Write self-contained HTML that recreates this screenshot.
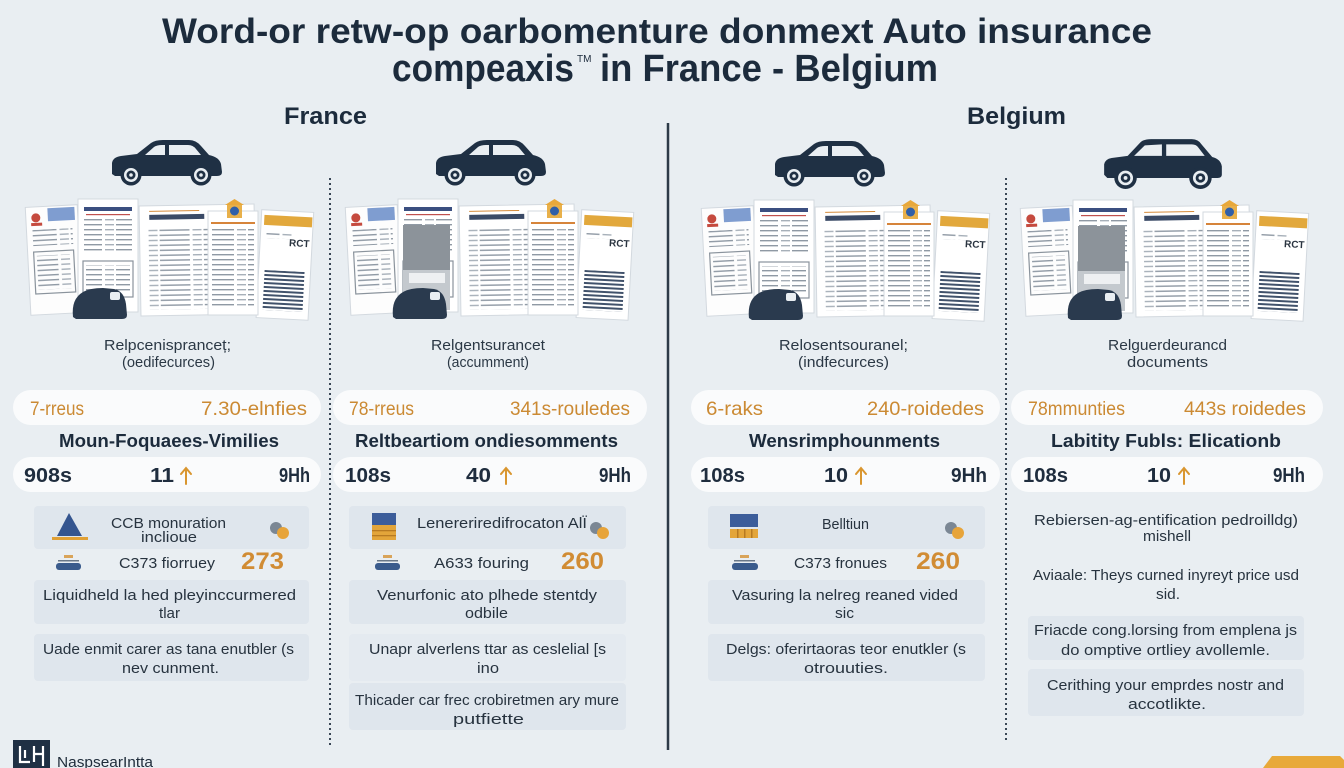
<!DOCTYPE html>
<html><head><meta charset="utf-8"><style>
html,body{margin:0;padding:0;background:#e9eef2;}
body{width:1344px;height:768px;overflow:hidden;}
svg{display:block;font-family:"Liberation Sans",sans-serif;}
</style></head><body>
<svg width="1344" height="768" viewBox="0 0 1344 768" xmlns="http://www.w3.org/2000/svg">
<defs>
<pattern id="ln" width="44" height="5" patternUnits="userSpaceOnUse"><rect x="0" y="0" width="30" height="1.4" fill="#8f99a4"/><rect x="33" y="0" width="9" height="1.4" fill="#a7b0b9"/></pattern>
<pattern id="st" width="12" height="4" patternUnits="userSpaceOnUse"><rect width="12" height="2" fill="#41526b"/></pattern>
<g id="car">
<path d="M3,36 L3,25 Q4,19 12,18 L28,16 L42,5 Q46,2 54,2 L80,2 Q87,2 92,8 L100,17 Q110,19 112,26 L113,34 Q113,38 108,38 L6,38 Z" fill="#1f3044"/>
<path d="M45,9 Q48,7 53,7 L56,7 L56,17 L36,17 Z" fill="#e9eef2"/>
<path d="M60,7 L79,7 Q84,7 87,11 L92,17 L60,17 Z" fill="#e9eef2"/>
<circle cx="22" cy="37" r="10.5" fill="#1f3044"/><circle cx="22" cy="37" r="7" fill="#e9eef2"/><circle cx="22" cy="37" r="4.5" fill="#1f3044"/><circle cx="22" cy="37" r="1.8" fill="#e9eef2"/>
<circle cx="92" cy="37" r="10.5" fill="#1f3044"/><circle cx="92" cy="37" r="7" fill="#e9eef2"/><circle cx="92" cy="37" r="4.5" fill="#1f3044"/><circle cx="92" cy="37" r="1.8" fill="#e9eef2"/>
</g>
<g id="suv">
<path d="M2,36 L2,26 Q3,21 9,20 L24,18 L36,5 Q39,2 46,2 L84,2 Q90,2 93,7 L103,19 Q111,21 112,28 L112,36 Q112,39 108,39 L5,39 Z" fill="#1f3044"/>
<path d="M40,8 L56,7 L56,18 L30,18 Z" fill="#e9eef2"/>
<path d="M60,7 L84,7 Q88,7 90,10 L96,18 L60,18 Z" fill="#e9eef2"/>
<circle cx="22" cy="39" r="10.5" fill="#1f3044"/><circle cx="22" cy="39" r="7" fill="#e9eef2"/><circle cx="22" cy="39" r="4.5" fill="#1f3044"/><circle cx="22" cy="39" r="1.8" fill="#e9eef2"/>
<circle cx="92" cy="39" r="10.5" fill="#1f3044"/><circle cx="92" cy="39" r="7" fill="#e9eef2"/><circle cx="92" cy="39" r="4.5" fill="#1f3044"/><circle cx="92" cy="39" r="1.8" fill="#e9eef2"/>
</g>
<g id="smallcar">
<path d="M45,118 Q43,100 55,93 Q62,89 75,89 L86,90 Q96,92 98,105 L99,116 Q99,120 94,120 L48,120 Z" fill="#2a3a4e"/>
<rect x="82" y="93" width="10" height="8" rx="2" fill="#e9eef2"/>
</g>
<g id="docs">
<g transform="rotate(-3 26 60)">
<rect x="0" y="7" width="52" height="108" fill="#fdfdfd" stroke="#d3d9df"/>
<circle cx="10" cy="18" r="4.5" fill="#c54a3e"/><rect x="5" y="23" width="11" height="3" fill="#c54a3e"/>
<rect x="22" y="9" width="27" height="13" fill="#7f9dd0"/>
<rect x="6" y="30" width="40" height="16" fill="url(#ln)"/>
<rect x="6" y="52" width="40" height="42" fill="none" stroke="#8a939c" stroke-width="1.2"/>
<rect x="9" y="56" width="34" height="34" fill="url(#ln)"/>
</g>
<rect x="50" y="0" width="60" height="113" fill="#ffffff" stroke="#d3d9df"/>
<rect x="56" y="8" width="48" height="4" fill="#3b4f80"/>
<rect x="58" y="15" width="44" height="1.2" fill="#c0504d"/>
<rect x="56" y="20" width="48" height="32" fill="url(#ln)"/>
<rect x="55" y="62" width="50" height="36" fill="none" stroke="#8a939c" stroke-width="1.2"/>
<rect x="58" y="66" width="44" height="28" fill="url(#ln)"/>
<g transform="rotate(-1 170 60)">
<rect x="112" y="6" width="115" height="110" fill="#ffffff" stroke="#d3d9df"/>
<rect x="122" y="15" width="55" height="5" fill="#3a4a66"/>
<rect x="122" y="11" width="50" height="1" fill="#d48a3a"/>
<rect x="120" y="28" width="100" height="82" fill="url(#ln)"/>
</g>
<g transform="rotate(3 257 64)">
<rect x="231" y="12" width="52" height="108" fill="#ffffff" stroke="#d3d9df"/>
<rect x="234" y="17" width="48" height="10" fill="#e2a83c"/>
<rect x="237" y="32" width="26" height="8" fill="url(#ln)"/>
<text x="260" y="47" font-size="10" font-weight="bold" fill="#2a3440">RCT</text>
<rect x="237" y="72" width="40" height="40" fill="url(#st)"/>
</g>
<rect x="180" y="12" width="50" height="104" fill="#ffffff" stroke="#d3d9df"/>
<rect x="183" y="23" width="44" height="2" fill="#d6843a"/>
<rect x="184" y="30" width="42" height="78" fill="url(#ln)"/>
<rect x="199" y="5" width="15" height="14" fill="#e8b04a"/>
<path d="M197,6 L206.5,0 L216,6 Z" fill="#e8a83a"/>
<circle cx="206.5" cy="12" r="4.5" fill="#2f5fa8"/>
</g>
</defs>

<text x="162" y="43" font-size="35" font-weight="bold" fill="#1c2b3c" textLength="990" lengthAdjust="spacingAndGlyphs">Word-or retw-op oarbomenture donmext Auto insurance</text>
<text x="392" y="81" font-size="38" font-weight="bold" fill="#1c2b3c" textLength="182" lengthAdjust="spacingAndGlyphs">compeaxis</text>
<text x="577" y="62" font-size="10" fill="#1c2b3c">TM</text>
<text x="600" y="81" font-size="38" font-weight="bold" fill="#1c2b3c" textLength="338" lengthAdjust="spacingAndGlyphs">in France - Belgium</text>

<text x="284" y="124" font-size="24" font-weight="bold" fill="#1c2b3c" textLength="83" lengthAdjust="spacingAndGlyphs">France</text>
<text x="967" y="124" font-size="24" font-weight="bold" fill="#1c2b3c" textLength="99" lengthAdjust="spacingAndGlyphs">Belgium</text>

<line x1="668" y1="123" x2="668" y2="750" stroke="#2d3a48" stroke-width="2.5"/>
<line x1="330" y1="178" x2="330" y2="745" stroke="#3a4756" stroke-width="2" stroke-dasharray="2 3"/>
<line x1="1006" y1="178" x2="1006" y2="742" stroke="#3a4756" stroke-width="2" stroke-dasharray="2 3"/>

<use href="#car" transform="translate(109,138)"/>
<use href="#car" transform="translate(433,138)"/>
<use href="#car" transform="translate(772,139)"/>
<use href="#suv" transform="translate(1102,137) scale(1.07,1.05)"/>

<use href="#docs" transform="translate(28,199)"/>
<use href="#docs" transform="translate(348,199)"/>
<rect x="403" y="225" width="47" height="45" fill="#8c939a"/>
<rect x="403" y="270" width="47" height="40" fill="#c4c9ce"/>
<rect x="409" y="273" width="36" height="10" fill="#eef0f2"/>
<use href="#docs" transform="translate(704,200)"/>
<use href="#docs" transform="translate(1023,200)"/>
<rect x="1078" y="226" width="47" height="45" fill="#8c939a"/>
<rect x="1078" y="271" width="47" height="40" fill="#c4c9ce"/>
<rect x="1084" y="274" width="36" height="10" fill="#eef0f2"/>
<use href="#smallcar" transform="translate(28,199)"/>
<use href="#smallcar" transform="translate(348,199)"/>
<use href="#smallcar" transform="translate(704,200)"/>
<use href="#smallcar" transform="translate(1023,200)"/>

<g font-size="15" fill="#2b3845">
<text x="104" y="350" textLength="127" lengthAdjust="spacingAndGlyphs">Relpcenispranceț;</text>
<text x="122" y="367" textLength="93" lengthAdjust="spacingAndGlyphs">(oedifecurces)</text>
<text x="431" y="350" textLength="114" lengthAdjust="spacingAndGlyphs">Relgentsurancet</text>
<text x="447" y="367" textLength="82" lengthAdjust="spacingAndGlyphs">(accumment)</text>
<text x="779" y="350" textLength="129" lengthAdjust="spacingAndGlyphs">Relosentsouranel;</text>
<text x="798" y="367" textLength="91" lengthAdjust="spacingAndGlyphs">(indfecurces)</text>
<text x="1108" y="350" textLength="119" lengthAdjust="spacingAndGlyphs">Relguerdeurancd</text>
<text x="1127" y="367" textLength="81" lengthAdjust="spacingAndGlyphs">documents</text>
</g>

<g fill="#fafbfc">
<rect x="13" y="390" width="308" height="35" rx="17.5"/>
<rect x="333" y="390" width="314" height="35" rx="17.5"/>
<rect x="691" y="390" width="309" height="35" rx="17.5"/>
<rect x="1011" y="390" width="312" height="35" rx="17.5"/>
</g>
<g font-size="19" fill="#cb8a33">
<text x="30" y="415" textLength="54" lengthAdjust="spacingAndGlyphs">7-rreus</text>
<text x="201" y="415" textLength="106" lengthAdjust="spacingAndGlyphs">7.30-elnfies</text>
<text x="349" y="415" textLength="65" lengthAdjust="spacingAndGlyphs">78-rreus</text>
<text x="510" y="415" textLength="120" lengthAdjust="spacingAndGlyphs">341s-rouledes</text>
<text x="706" y="415" textLength="57" lengthAdjust="spacingAndGlyphs">6-raks</text>
<text x="867" y="415" textLength="117" lengthAdjust="spacingAndGlyphs">240-roidedes</text>
<text x="1028" y="415" textLength="97" lengthAdjust="spacingAndGlyphs">78mmunties</text>
<text x="1184" y="415" textLength="122" lengthAdjust="spacingAndGlyphs">443s roidedes</text>
</g>

<g font-size="18" font-weight="bold" fill="#1c2b3c">
<text x="59" y="447" textLength="220" lengthAdjust="spacingAndGlyphs">Moun-Foquaees-Vimilies</text>
<text x="355" y="447" textLength="263" lengthAdjust="spacingAndGlyphs">Reltbeartiom ondiesomments</text>
<text x="749" y="447" textLength="191" lengthAdjust="spacingAndGlyphs">Wensrimphounments</text>
<text x="1051" y="447" textLength="230" lengthAdjust="spacingAndGlyphs">Labitity Fubls: Elicationb</text>
</g>

<g fill="#fafbfc">
<rect x="13" y="457" width="308" height="35" rx="17.5"/>
<rect x="333" y="457" width="314" height="35" rx="17.5"/>
<rect x="691" y="457" width="309" height="35" rx="17.5"/>
<rect x="1011" y="457" width="312" height="35" rx="17.5"/>
</g>
<g font-size="20" font-weight="bold" fill="#1f2d3e">
<text x="24" y="482" textLength="48" lengthAdjust="spacingAndGlyphs">908s</text>
<text x="150" y="482" textLength="24" lengthAdjust="spacingAndGlyphs">11</text>
<text x="279" y="482" textLength="31" lengthAdjust="spacingAndGlyphs">9Hh</text>
<text x="345" y="482" textLength="46" lengthAdjust="spacingAndGlyphs">108s</text>
<text x="466" y="482" textLength="25" lengthAdjust="spacingAndGlyphs">40</text>
<text x="599" y="482" textLength="32" lengthAdjust="spacingAndGlyphs">9Hh</text>
<text x="700" y="482" textLength="45" lengthAdjust="spacingAndGlyphs">108s</text>
<text x="824" y="482" textLength="24" lengthAdjust="spacingAndGlyphs">10</text>
<text x="951" y="482" textLength="36" lengthAdjust="spacingAndGlyphs">9Hh</text>
<text x="1023" y="482" textLength="45" lengthAdjust="spacingAndGlyphs">108s</text>
<text x="1147" y="482" textLength="24" lengthAdjust="spacingAndGlyphs">10</text>
<text x="1273" y="482" textLength="32" lengthAdjust="spacingAndGlyphs">9Hh</text>
</g>
<g stroke="#d9962f" stroke-width="2" fill="none" stroke-linecap="round">
<path d="M186,484 V469 M181,474 L186,468 L191,474"/>
<path d="M506,484 V469 M501,474 L506,468 L511,474"/>
<path d="M861,484 V469 M856,474 L861,468 L866,474"/>
<path d="M1184,484 V469 M1179,474 L1184,468 L1189,474"/>
</g>

<g fill="#dfe6ed">
<rect x="34" y="506" width="275" height="43" rx="4"/>
<rect x="34" y="580" width="275" height="44" rx="4"/>
<rect x="34" y="634" width="275" height="47" rx="4"/>
<rect x="349" y="506" width="277" height="43" rx="4"/>
<rect x="349" y="580" width="277" height="44" rx="4"/>
<rect x="349" y="634" width="277" height="47" rx="4" fill="#e4eaf0"/>
<rect x="349" y="683" width="277" height="47" rx="4"/>
<rect x="708" y="506" width="277" height="43" rx="4"/>
<rect x="708" y="580" width="277" height="44" rx="4"/>
<rect x="708" y="634" width="277" height="47" rx="4"/>
<rect x="1028" y="616" width="276" height="44" rx="4"/>
<rect x="1028" y="669" width="276" height="47" rx="4"/>
</g>

<path d="M69,513 L82,536 L57,536 Z" fill="#34558f"/>
<rect x="52" y="537" width="36" height="3" fill="#e0a035"/>
<circle cx="276" cy="528" r="6" fill="#7b8794"/><circle cx="283" cy="533" r="6" fill="#e7a43a"/>
<rect x="64" y="555" width="9" height="3" fill="#d9a45a"/><rect x="58" y="560" width="21" height="1.5" fill="#6a7888"/><rect x="56" y="563" width="25" height="7" rx="3" fill="#3a5b8c"/>

<rect x="372" y="513" width="24" height="12" fill="#3c5d9a"/><rect x="372" y="525" width="24" height="15" fill="#e3a53a"/><rect x="372" y="530" width="24" height="1.3" fill="#b77a22"/><rect x="372" y="535" width="24" height="1.3" fill="#b77a22"/>
<circle cx="596" cy="528" r="6" fill="#7b8794"/><circle cx="603" cy="533" r="6" fill="#e7a43a"/>
<rect x="383" y="555" width="9" height="3" fill="#d9a45a"/><rect x="377" y="560" width="21" height="1.5" fill="#6a7888"/><rect x="375" y="563" width="25" height="7" rx="3" fill="#3a5b8c"/>

<rect x="730" y="514" width="28" height="13" fill="#3c5d9a"/><rect x="730" y="529" width="28" height="9" fill="#e3a53a"/><rect x="737" y="529" width="1.5" height="9" fill="#b77a22"/><rect x="744" y="529" width="1.5" height="9" fill="#b77a22"/><rect x="751" y="529" width="1.5" height="9" fill="#b77a22"/>
<circle cx="951" cy="528" r="6" fill="#7b8794"/><circle cx="958" cy="533" r="6" fill="#e7a43a"/>
<rect x="740" y="555" width="9" height="3" fill="#d9a45a"/><rect x="734" y="560" width="21" height="1.5" fill="#6a7888"/><rect x="732" y="563" width="26" height="7" rx="3" fill="#3a5b8c"/>

<g font-size="15" fill="#27333f">
<text x="111" y="528" textLength="115" lengthAdjust="spacingAndGlyphs">CCB monuration</text>
<text x="141" y="542" textLength="56" lengthAdjust="spacingAndGlyphs">inclioue</text>
<text x="119" y="568" textLength="96" lengthAdjust="spacingAndGlyphs">C373 fiorruey</text>
<text x="43" y="600" textLength="253" lengthAdjust="spacingAndGlyphs">Liquidheld la hed pleyinccurmered</text>
<text x="159" y="618" textLength="21" lengthAdjust="spacingAndGlyphs">tlar</text>
<text x="43" y="654" textLength="251" lengthAdjust="spacingAndGlyphs">Uade enmit carer as tana enutbler (s</text>
<text x="122" y="673" textLength="97" lengthAdjust="spacingAndGlyphs">nev cunment.</text>

<text x="417" y="528" textLength="170" lengthAdjust="spacingAndGlyphs">Lenereriredifrocaton AlÏ</text>
<text x="434" y="568" textLength="95" lengthAdjust="spacingAndGlyphs">A633 fouring</text>
<text x="377" y="600" textLength="220" lengthAdjust="spacingAndGlyphs">Venurfonic ato plhede stentdy</text>
<text x="465" y="618" textLength="43" lengthAdjust="spacingAndGlyphs">odbile</text>
<text x="369" y="654" textLength="237" lengthAdjust="spacingAndGlyphs">Unapr alverlens ttar as ceslelial [s</text>
<text x="477" y="673" textLength="22" lengthAdjust="spacingAndGlyphs">ino</text>
<text x="355" y="705" textLength="264" lengthAdjust="spacingAndGlyphs">Thicader car frec crobiretmen ary mure</text>
<text x="453" y="724" textLength="71" lengthAdjust="spacingAndGlyphs">putfiette</text>

<text x="822" y="529" textLength="47" lengthAdjust="spacingAndGlyphs">Belltiun</text>
<text x="794" y="568" textLength="93" lengthAdjust="spacingAndGlyphs">C373 fronues</text>
<text x="732" y="600" textLength="226" lengthAdjust="spacingAndGlyphs">Vasuring la nelreg reaned vided</text>
<text x="835" y="618" textLength="19" lengthAdjust="spacingAndGlyphs">sic</text>
<text x="726" y="654" textLength="240" lengthAdjust="spacingAndGlyphs">Delgs: oferirtaoras teor enutkler (s</text>
<text x="804" y="673" textLength="84" lengthAdjust="spacingAndGlyphs">otrouuties.</text>

<text x="1034" y="525" textLength="264" lengthAdjust="spacingAndGlyphs">Rebiersen-ag-entification pedroilldg)</text>
<text x="1143" y="541" textLength="48" lengthAdjust="spacingAndGlyphs">mishell</text>
<text x="1033" y="580" textLength="266" lengthAdjust="spacingAndGlyphs">Aviaale: Theys curned inyreyt price usd</text>
<text x="1156" y="599" textLength="24" lengthAdjust="spacingAndGlyphs">sid.</text>
<text x="1034" y="635" textLength="263" lengthAdjust="spacingAndGlyphs">Friacde cong.lorsing from emplena js</text>
<text x="1061" y="655" textLength="209" lengthAdjust="spacingAndGlyphs">do omptive ortliey avollemle.</text>
<text x="1047" y="690" textLength="237" lengthAdjust="spacingAndGlyphs">Cerithing your emprdes nostr and</text>
<text x="1128" y="709" textLength="78" lengthAdjust="spacingAndGlyphs">accotlikte.</text>
</g>

<g font-size="24" font-weight="bold" fill="#d18c34">
<text x="241" y="569" textLength="43" lengthAdjust="spacingAndGlyphs">273</text>
<text x="561" y="569" textLength="43" lengthAdjust="spacingAndGlyphs">260</text>
<text x="916" y="569" textLength="44" lengthAdjust="spacingAndGlyphs">260</text>
</g>

<rect x="13" y="740" width="37" height="28" fill="#1f3044"/>
<path d="M20,746 V762 H30 M25,750 V758 M34,746 V762 M34,754 H43 M43,746 V766" stroke="#ffffff" stroke-width="2.2" fill="none"/>
<text x="57" y="767" font-size="15" fill="#1f2c3a" textLength="96" lengthAdjust="spacingAndGlyphs">NaspsearIntta</text>

<polygon points="1272,756 1340,756 1344,760 1344,768 1263,768" fill="#e8a93a"/>
</svg>
</body></html>
